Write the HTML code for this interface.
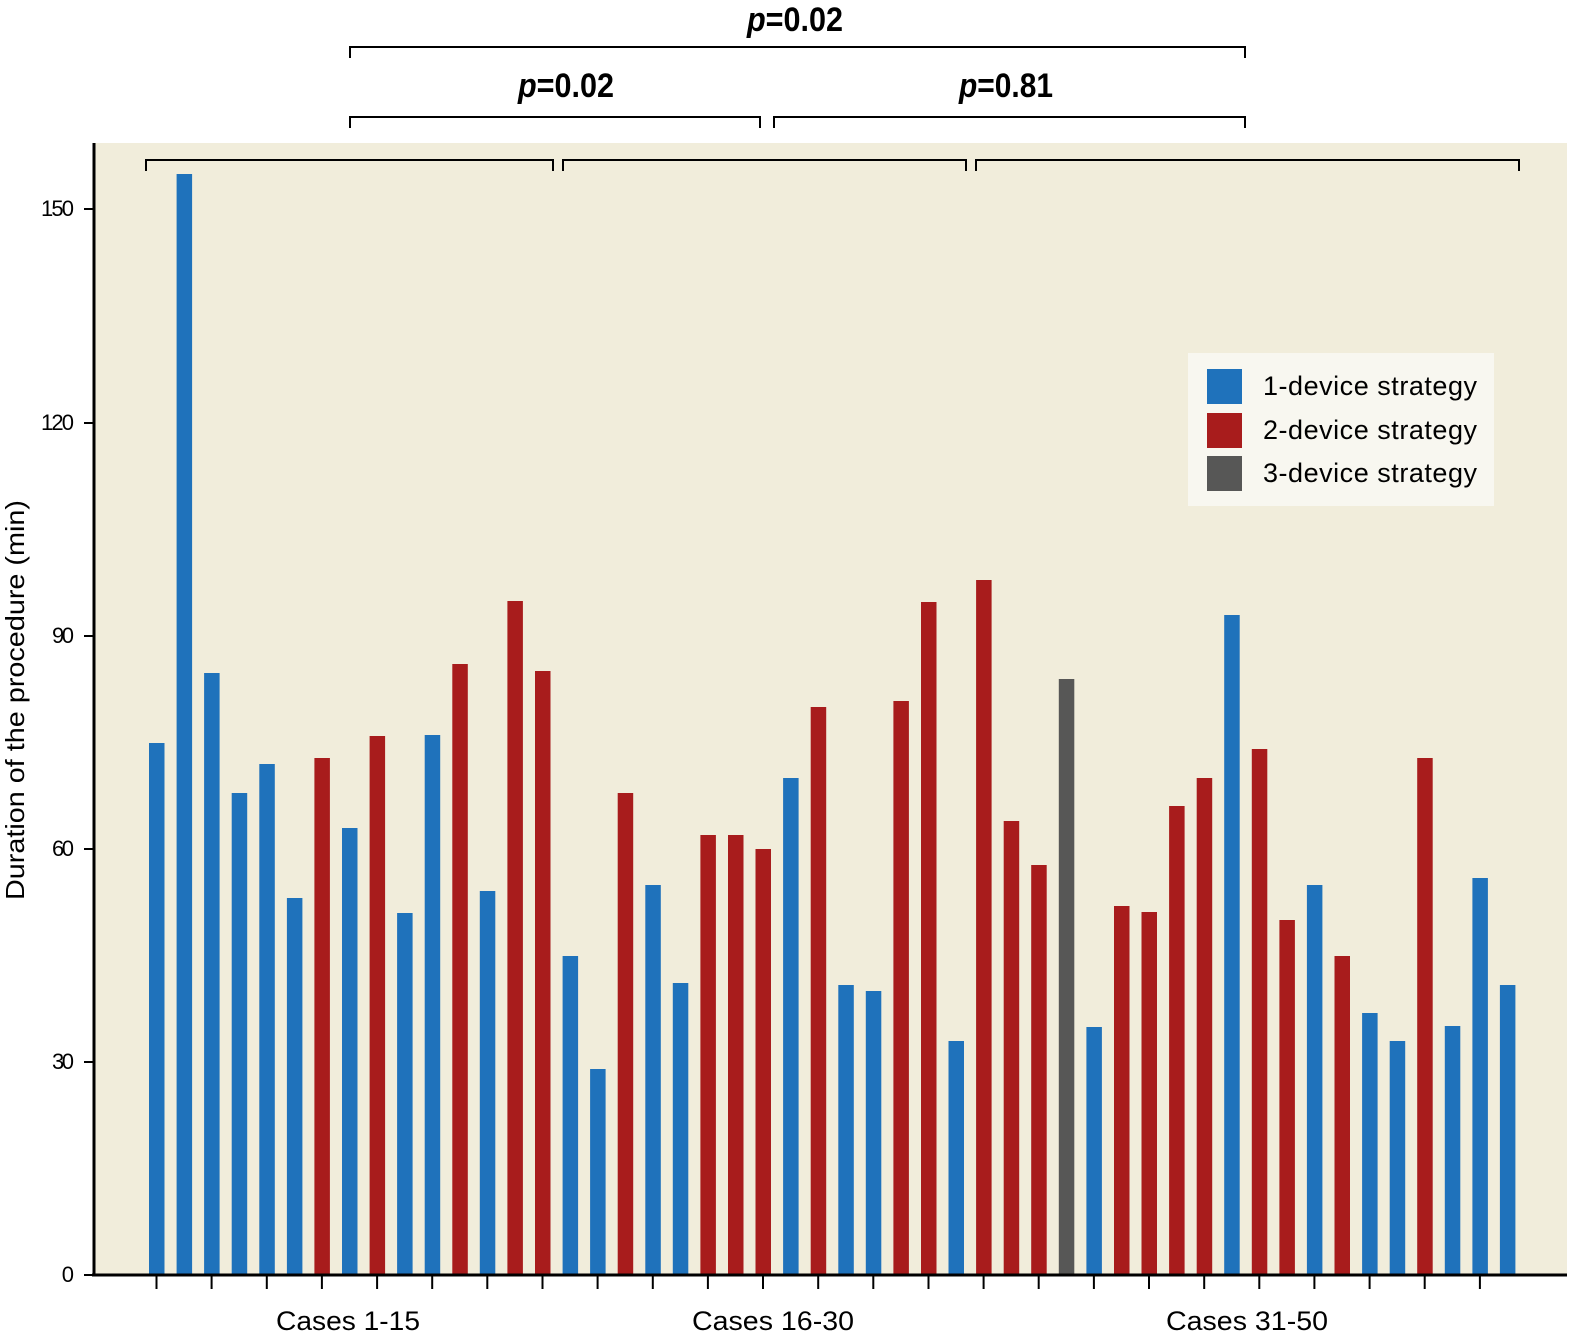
<!DOCTYPE html>
<html><head><style>body{margin:0;background:#fff}svg{display:block}</style></head><body>
<svg width="1571" height="1337" xmlns="http://www.w3.org/2000/svg" font-family="Liberation Sans, sans-serif">
<rect x="94" y="143" width="1473" height="1132" fill="#f1eddb"/>
<g fill="#1f72bb">
<rect x="149.0" y="743" width="15.5" height="532"/>
<rect x="176.6" y="174" width="15.5" height="1101"/>
<rect x="204.1" y="673" width="15.5" height="602"/>
<rect x="231.7" y="793" width="15.5" height="482"/>
<rect x="259.3" y="764" width="15.5" height="511"/>
<rect x="286.9" y="898" width="15.5" height="377"/>
<rect x="342.0" y="828" width="15.5" height="447"/>
<rect x="397.1" y="913" width="15.5" height="362"/>
<rect x="424.7" y="735" width="15.5" height="540"/>
<rect x="479.8" y="891" width="15.5" height="384"/>
<rect x="562.6" y="956" width="15.5" height="319"/>
<rect x="590.1" y="1069" width="15.5" height="206"/>
<rect x="645.3" y="885" width="15.5" height="390"/>
<rect x="672.8" y="983" width="15.5" height="292"/>
<rect x="783.1" y="778" width="15.5" height="497"/>
<rect x="838.3" y="985" width="15.5" height="290"/>
<rect x="865.8" y="991" width="15.5" height="284"/>
<rect x="948.5" y="1041" width="15.5" height="234"/>
<rect x="1086.4" y="1027" width="15.5" height="248"/>
<rect x="1224.2" y="615" width="15.5" height="660"/>
<rect x="1306.9" y="885" width="15.5" height="390"/>
<rect x="1362.1" y="1013" width="15.5" height="262"/>
<rect x="1389.7" y="1041" width="15.5" height="234"/>
<rect x="1444.8" y="1026" width="15.5" height="249"/>
<rect x="1472.4" y="878" width="15.5" height="397"/>
<rect x="1499.9" y="985" width="15.5" height="290"/>
</g>
<g fill="#a81c1c">
<rect x="314.4" y="758" width="15.5" height="517"/>
<rect x="369.6" y="736" width="15.5" height="539"/>
<rect x="452.3" y="664" width="15.5" height="611"/>
<rect x="507.4" y="601" width="15.5" height="674"/>
<rect x="535.0" y="671" width="15.5" height="604"/>
<rect x="617.7" y="793" width="15.5" height="482"/>
<rect x="700.4" y="835" width="15.5" height="440"/>
<rect x="728.0" y="835" width="15.5" height="440"/>
<rect x="755.5" y="849" width="15.5" height="426"/>
<rect x="810.7" y="707" width="15.5" height="568"/>
<rect x="893.4" y="701" width="15.5" height="574"/>
<rect x="921.0" y="602" width="15.5" height="673"/>
<rect x="976.1" y="580" width="15.5" height="695"/>
<rect x="1003.7" y="821" width="15.5" height="454"/>
<rect x="1031.2" y="865" width="15.5" height="410"/>
<rect x="1114.0" y="906" width="15.5" height="369"/>
<rect x="1141.5" y="912" width="15.5" height="363"/>
<rect x="1169.1" y="806" width="15.5" height="469"/>
<rect x="1196.7" y="778" width="15.5" height="497"/>
<rect x="1251.8" y="749" width="15.5" height="526"/>
<rect x="1279.4" y="920" width="15.5" height="355"/>
<rect x="1334.5" y="956" width="15.5" height="319"/>
<rect x="1417.2" y="758" width="15.5" height="517"/>
</g>
<rect x="1058.8" y="679" width="15.5" height="596" fill="#575756"/>
<path stroke="#000" stroke-width="2" fill="none" d="M156.5 1275V1289M211.6 1275V1289M266.8 1275V1289M321.9 1275V1289M377.1 1275V1289M432.2 1275V1289M487.3 1275V1289M542.5 1275V1289M597.6 1275V1289M652.8 1275V1289M707.9 1275V1289M763.0 1275V1289M818.2 1275V1289M873.3 1275V1289M928.5 1275V1289M983.6 1275V1289M1038.7 1275V1289M1093.9 1275V1289M1149.0 1275V1289M1204.2 1275V1289M1259.3 1275V1289M1314.4 1275V1289M1369.6 1275V1289M1424.7 1275V1289M1479.9 1275V1289"/>
<g stroke="#000" stroke-width="3" fill="none">
<line x1="94" y1="143" x2="94" y2="1276"/>
<line x1="92" y1="1275" x2="1567" y2="1275"/>
</g>
<g stroke="#000" stroke-width="2" fill="none">
<line x1="84" y1="1275" x2="94" y2="1275"/><line x1="84" y1="1062" x2="94" y2="1062"/><line x1="84" y1="849" x2="94" y2="849"/><line x1="84" y1="636" x2="94" y2="636"/><line x1="84" y1="423" x2="94" y2="423"/><line x1="84" y1="209" x2="94" y2="209"/>
<polyline points="350,58 350,47 1245,47 1245,58"/>
<polyline points="350,128 350,117 760,117 760,128"/>
<polyline points="774,128 774,117 1245,117 1245,128"/>
<polyline points="146,171 146,160 553,160 553,171"/>
<polyline points="563,171 563,160 966,160 966,171"/>
<polyline points="976,171 976,160 1519,160 1519,171"/>
</g>
<g font-size="22" text-anchor="end" fill="#000">
<text x="74" y="1282" textLength="14">0</text>
<text x="74" y="1069" textLength="22">30</text>
<text x="74" y="856" textLength="22">60</text>
<text x="74" y="643" textLength="22">90</text>
<text x="74" y="430" textLength="33">120</text>
<text x="74" y="216" textLength="33">150</text>
</g>
<g font-size="34" font-weight="bold" text-anchor="middle">
<text x="795" y="31" textLength="96" lengthAdjust="spacingAndGlyphs"><tspan font-style="italic">p</tspan>=0.02</text>
<text x="566" y="97" textLength="96" lengthAdjust="spacingAndGlyphs"><tspan font-style="italic">p</tspan>=0.02</text>
<text x="1006" y="97" textLength="94" lengthAdjust="spacingAndGlyphs"><tspan font-style="italic">p</tspan>=0.81</text>
</g>
<g font-size="27" text-anchor="middle">
<text x="348" y="1330" textLength="144" lengthAdjust="spacingAndGlyphs">Cases 1-15</text>
<text x="773" y="1330" textLength="162" lengthAdjust="spacingAndGlyphs">Cases 16-30</text>
<text x="1247" y="1330" textLength="162" lengthAdjust="spacingAndGlyphs">Cases 31-50</text>
<text transform="translate(24,700) rotate(-90)" font-size="26" textLength="400" lengthAdjust="spacingAndGlyphs">Duration of the procedure (min)</text>
</g>
<rect x="1188" y="353" width="306" height="153" fill="#f8f7f0"/>
<rect x="1207" y="369" width="35" height="35" fill="#1f72bb"/>
<rect x="1207" y="413" width="35" height="35" fill="#a81c1c"/>
<rect x="1207" y="456" width="35" height="35" fill="#575756"/>
<g font-size="27">
<text x="1263" y="395" textLength="214">1-device strategy</text>
<text x="1263" y="439" textLength="214">2-device strategy</text>
<text x="1263" y="482" textLength="214">3-device strategy</text>
</g>
</svg>
</body></html>
